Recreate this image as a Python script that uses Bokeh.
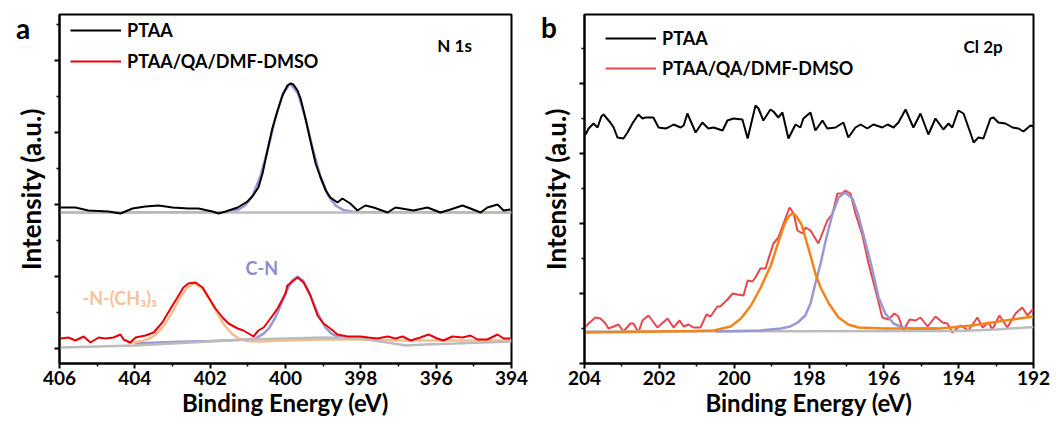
from bokeh.plotting import figure
from bokeh.models import Range1d, FixedTicker, Label, Legend, LegendItem, Div
from bokeh.layouts import row
from bokeh.embed import file_html
from bokeh.resources import INLINE

FONT = "Lato"

# ---------------- Panel a : N 1s ----------------
a_ptaa_E = [405.97, 405.58, 405.23, 404.70, 404.38, 404.06, 403.72, 403.37, 403.00, 402.58, 402.31,
            401.94, 401.78, 401.59, 401.27, 401.01, 400.88, 400.72, 400.61, 400.48, 400.35, 400.21,
            400.08, 399.95, 399.87, 399.79, 399.68, 399.60, 399.52, 399.44, 399.34, 399.20, 399.07,
            398.93, 398.81, 398.62, 398.49, 398.28, 398.09, 397.88, 397.66, 397.29, 397.08, 396.76,
            396.60, 396.23, 395.89, 395.62, 395.30, 395.09, 394.82, 394.64, 394.37, 394.21, 394.03]
a_ptaa_I = [141, 141, 138, 137, 135, 140, 142, 143, 141, 140, 140,
            137, 135, 137, 141, 147, 152, 161, 175, 198, 220, 238,
            253, 263, 265, 264, 258, 250, 238, 225, 208, 185, 171,
            158, 151, 146, 150, 145, 138, 143, 141, 136, 141, 139,
            138, 141, 136, 139, 143, 140, 136, 141, 144, 138, 139]

a_qa_E = [405.97, 405.76, 405.58, 405.36, 405.18, 404.96, 404.78, 404.57, 404.38, 404.30, 404.12,
          403.98, 403.72, 403.50, 403.27, 403.05, 402.87, 402.71, 402.58, 402.39, 402.20, 402.04,
          401.86, 401.67, 401.51, 401.27, 401.12, 400.98, 400.85, 400.72, 400.58, 400.40, 400.21,
          400.00, 399.95, 399.68, 399.52, 399.34, 399.15, 398.99, 398.81, 398.62, 398.35, 398.01,
          397.80, 397.56, 397.29, 397.08, 396.89, 396.68, 396.42, 396.20, 395.97, 395.81, 395.57,
          395.30, 395.09, 394.90, 394.64, 394.37, 394.21, 394.03]
a_qa_I = [10, 11, 8, 12, 6, 11, 10, 11, 14, 9, 6,
          11, 13, 16, 26, 40, 51, 61, 65, 66, 61, 51,
          40, 31, 25, 20, 18, 15, 12, 18, 21, 30, 40,
          55, 63, 71, 66, 53, 33, 25, 20, 14, 12, 12,
          11, 10, 12, 10, 12, 8, 11, 14, 10, 8, 12,
          11, 13, 9, 9, 14, 10, 10]

a_fit_top_E = [406.0, 401.57, 401.27, 401.07, 400.87, 400.67, 400.47, 400.27, 400.07, 399.87,
               399.67, 399.47, 399.27, 399.07, 398.87, 398.67, 398.47, 398.17, 394.0]
a_fit_top_I = [136, 136.4, 138.6, 143, 153, 172, 199, 230, 255, 265,
               255, 230, 199, 172, 153, 143, 138.6, 136.4, 136]
a_bg_top_E = [406.0, 394.0]
a_bg_top_I = [136, 136]

a_fit_cn_E = [404.0, 403.0, 402.0, 401.0, 400.8, 400.58, 400.43, 400.28, 400.13, 399.98, 399.83,
              399.68, 399.53, 399.38, 399.23, 399.08, 398.93, 398.78, 398.58, 398.28, 398.0]
a_fit_cn_I = [5, 6.5, 7.5, 9, 10, 14.9, 20.7, 30.1, 42.9, 56.8, 67.8,
              72, 67.8, 56.8, 42.9, 30.1, 20.7, 14.9, 11.4, 10.1, 10]
a_fit_nme_E = [404.2, 403.82, 403.62, 403.42, 403.22, 403.02, 402.82, 402.62, 402.42, 402.22,
               402.02, 401.82, 401.62, 401.42, 401.22, 401.02, 400.72, 400.0, 399.0, 398.0,
               397.0, 396.0, 395.0, 394.0]
a_fit_nme_I = [5, 7.4, 9.7, 14.6, 23.2, 35.5, 49.4, 60.6, 65, 60.6,
               49.4, 35.5, 23.2, 14.6, 9.7, 7.4, 7, 8, 9, 9,
               8, 8, 8, 8]
a_bg_bot_E = [406.0, 404.0, 402.0, 401.0, 400.0, 399.0, 398.0, 397.3, 396.8, 396.3, 395.5, 394.0]
a_bg_bot_I = [1, 3, 7, 9, 10, 11, 10, 6, 3, 4, 5, 7]

# ---------------- Panel b : Cl 2p ----------------
b_ptaa_E = [203.97, 203.89, 203.76, 203.65, 203.55, 203.49, 203.31, 203.22, 203.12, 202.96, 202.85,
            202.72, 202.56, 202.45, 202.37, 202.16, 202.02, 201.84, 201.76, 201.62, 201.43, 201.35,
            201.25, 201.03, 200.85, 200.69, 200.55, 200.31, 200.18, 200.02, 199.78, 199.64, 199.43,
            199.35, 199.22, 199.03, 198.95, 198.82, 198.71, 198.55, 198.36, 198.23, 198.15, 197.96,
            197.83, 197.64, 197.51, 197.29, 197.08, 196.95, 196.76, 196.62, 196.44, 196.28, 196.04,
            195.90, 195.74, 195.61, 195.42, 195.21, 195.02, 194.81, 194.62, 194.41, 194.27, 194.17,
            194.01, 193.87, 193.69, 193.60, 193.47, 193.34, 193.15, 193.07, 192.94, 192.75, 192.56,
            192.40, 192.27, 192.08, 192.00]
b_ptaa_I = [229, 235, 240, 236, 247, 249, 241, 236, 226, 225, 231,
            240, 249, 245, 246, 246, 236, 235, 236, 239, 236, 238,
            250, 231, 241, 235, 236, 233, 243, 245, 244, 225, 258,
            255, 243, 254, 252, 246, 251, 225, 239, 236, 245, 251,
            233, 243, 235, 236, 241, 226, 236, 239, 235, 239, 236,
            239, 236, 241, 254, 236, 250, 229, 245, 234, 240, 236,
            253, 250, 231, 221, 226, 225, 245, 246, 241, 240, 236,
            235, 232, 238, 237]

b_qa_E = [203.97, 203.89, 203.71, 203.57, 203.44, 203.36, 203.22, 203.09, 202.96, 202.77, 202.69,
          202.56, 202.45, 202.29, 202.05, 201.78, 201.62, 201.46, 201.35, 201.22, 201.09, 200.90,
          200.74, 200.63, 200.45, 200.37, 200.18, 200.04, 199.91, 199.75, 199.64, 199.51, 199.43,
          199.30, 199.16, 199.08, 198.95, 198.82, 198.68, 198.52, 198.41, 198.31, 198.17, 198.09,
          197.96, 197.75, 197.51, 197.37, 197.24, 197.11, 197.03, 196.89, 196.76, 196.57, 196.41,
          196.22, 196.04, 195.88, 195.72, 195.61, 195.48, 195.31, 195.15, 195.02, 194.83, 194.62,
          194.43, 194.30, 194.17, 193.95, 193.74, 193.50, 193.36, 193.20, 193.10, 192.91, 192.70,
          192.48, 192.30, 192.16, 192.00]
b_qa_I = [37, 40, 46, 45, 40, 35, 37, 39, 32, 40, 40,
          31, 43, 48, 36, 45, 36, 43, 37, 39, 36, 36,
          49, 47, 57, 57, 64, 70, 69, 68, 83, 82, 86,
          95, 95, 105, 120, 126, 140, 156, 150, 133, 130, 136,
          133, 120, 143, 150, 170, 170, 173, 170, 150, 128, 100,
          73, 46, 44, 50, 47, 33, 44, 43, 46, 37, 47,
          41, 40, 31, 38, 33, 46, 36, 41, 34, 48, 36,
          50, 56, 48, 55]

b_fit1_E = [204.0, 202.0, 201.0, 200.55, 200.09, 199.82, 199.55, 199.29, 199.02, 198.83, 198.67,
            198.55, 198.45, 198.35, 198.2, 198.09, 197.96, 197.83, 197.69, 197.47, 197.21, 196.95,
            196.68, 196.0, 195.0, 194.5, 193.64, 192.75, 192.0]
b_fit1_I = [31, 32, 32.5, 33, 37, 45, 58, 76, 98, 120, 138,
            147, 150, 148, 139, 125, 108, 90, 76, 60, 46, 39,
            36, 35, 35, 35, 38, 43, 47]
b_fit2_E = [200.5, 199.3, 198.75, 198.5, 198.3, 198.1, 197.96, 197.83, 197.69, 197.56, 197.37,
            197.21, 197.03, 196.84, 196.68, 196.49, 196.30, 196.14, 195.96, 195.74, 195.5, 195.2, 194.6]
b_fit2_I = [32, 33, 35, 37, 41, 48, 60, 80, 100, 122, 150,
            166, 171, 165, 148, 121, 93, 66, 50, 40, 36, 35, 35]
b_bg_E = [204.0, 194.0, 193.0, 192.0]
b_bg_I = [32, 32.5, 34, 36.5]

a_xticks = [394, 396, 398, 400, 402, 404, 406]
a_xminor = [395, 397, 399, 401, 403, 405]
b_xticks = [192, 194, 196, 198, 200, 202, 204]
b_xminor = [193, 195, 197, 199, 201, 203]
a_yticks = [0, 72, 144, 216, 288]
a_yminor = [36, 108, 180, 252, 324]
b_yticks = [0, 70, 140, 210, 280]
b_yminor = [35, 105, 175, 245, 315]

BLACK = "#000000"
RED_A = "#e8000b"
RED_B = "#e8464e"
LAV = "#9898d4"
PEACH = "#f5be8e"
ORANGE = "#f2841a"
GREY = "#bcbcbc"


def base_fig(xr, yr, bl, br, xt, xm, yt, ym):
    p = figure(width=528, height=421, x_range=xr, y_range=yr,
               output_backend="svg", toolbar_location=None,
               min_border_left=bl, min_border_right=br,
               min_border_top=14, min_border_bottom=58)
    p.xgrid.visible = False
    p.ygrid.visible = False
    p.outline_line_color = "black"
    p.outline_line_width = 2
    p.outline_line_alpha = 1
    p.xaxis.ticker = FixedTicker(ticks=xt, minor_ticks=xm)
    p.yaxis.ticker = FixedTicker(ticks=yt, minor_ticks=ym)
    for ax in (p.xaxis, p.yaxis):
        ax.axis_line_width = 2
        ax.major_tick_line_width = 2
        ax.minor_tick_line_width = 1.5
        ax.major_tick_out = 5
        ax.major_tick_in = 0
        ax.minor_tick_out = 3
        ax.minor_tick_in = 0
        ax.axis_label_text_font = FONT
        ax.axis_label_text_font_style = "bold"
        ax.axis_label_text_color = "black"
        ax.major_label_text_font = FONT
        ax.major_label_text_font_style = "bold"
        ax.major_label_text_font_size = "19px"
        ax.major_label_text_color = "black"
    p.xaxis.axis_label = "Binding Energy (eV)"
    p.xaxis.axis_label_text_font_size = "24px"
    p.xaxis.major_label_standoff = 2
    p.xaxis.axis_label_standoff = 0
    p.yaxis.axis_label = "Intensity (a.u.)"
    p.yaxis.axis_label_text_font_size = "26px"
    # intensity axis carries no numbers: labels are not painted
    p.yaxis.major_label_text_font_size = "1px"
    p.yaxis.major_label_text_color = None
    p.yaxis.major_label_standoff = 0
    p.yaxis.axis_label_standoff = 8
    return p


def add_legend(p, r1, r2, loc, spacing):
    leg = Legend(items=[LegendItem(label="PTAA", renderers=[r1]),
                        LegendItem(label="PTAA/QA/DMF-DMSO", renderers=[r2])],
                 location=loc, orientation="vertical")
    leg.border_line_alpha = 0
    leg.background_fill_alpha = 0
    leg.padding = 0
    leg.margin = 0
    leg.glyph_width = 51
    leg.glyph_height = 20
    leg.label_height = 20
    leg.spacing = spacing
    leg.label_standoff = 6
    leg.label_text_font = FONT
    leg.label_text_font_style = "bold"
    leg.label_text_font_size = "18px"
    leg.label_text_color = "black"
    p.add_layout(leg)


def add_text(p, x, y, text, size, color="black"):
    p.add_layout(Label(x=x, y=y, text=text, text_font=FONT,
                       text_font_style="bold", text_font_size=size, text_color=color,
                       text_baseline="middle", text_align="left"))


def letter(t, left, top):
    return Div(text=t, styles={"position": "absolute", "left": f"{left}px", "top": f"{top}px",
                               "font-family": "Lato", "font-weight": "bold",
                               "font-size": "28px", "line-height": "28px", "z-index": "10"})


# ---- panel a ----
pa = base_fig(Range1d(406, 394), Range1d(-15, 334), 59, 17, a_xticks, a_xminor, a_yticks, a_yminor)
pa.line(a_fit_top_E, a_fit_top_I, line_color=LAV, line_width=2.5)
pa.line(a_fit_cn_E, a_fit_cn_I, line_color=LAV, line_width=2.5)
pa.line(a_fit_nme_E, a_fit_nme_I, line_color=PEACH, line_width=2.5)
pa.line(a_bg_top_E, a_bg_top_I, line_color=GREY, line_width=2.5)
pa.line(a_bg_bot_E, a_bg_bot_I, line_color=GREY, line_width=2.5)
ra1 = pa.line(a_ptaa_E, a_ptaa_I, line_color=BLACK, line_width=2)
ra2 = pa.line(a_qa_E, a_qa_I, line_color=RED_A, line_width=2)
add_legend(pa, ra1, ra2, (11, 291), 9)
add_text(pa, 395.97, 303, "N 1s", "17px")
add_text(pa, 401.06, 81, "C-N", "18px", color="#8c8cd0")
add_text(pa, 405.39, 51, "-N-(CH\u2083)\u2083", "18px", color="#f5c29a")

# ---- panel b ----
pb = base_fig(Range1d(204, 192), Range1d(0, 349), 56, 23, b_xticks, b_xminor, b_yticks, b_yminor)
rb1 = pb.line(b_ptaa_E, b_ptaa_I, line_color=BLACK, line_width=2)
rb2 = pb.line(b_qa_E, b_qa_I, line_color=RED_B, line_width=2)
pb.line(b_bg_E, b_bg_I, line_color=GREY, line_width=2.5)
pb.line(b_fit2_E, b_fit2_I, line_color=LAV, line_width=2.5)
pb.line(b_fit1_E, b_fit1_I, line_color=ORANGE, line_width=2.5)
add_legend(pb, rb1, rb2, (21, 284), 8)
add_text(pb, 193.87, 317, "Cl 2p", "17px")

layout = row(pa, pb, letter("a", 11, 9), letter("b", 536, 8), spacing=0)
open("out.html", "w").write(file_html(layout, INLINE))
